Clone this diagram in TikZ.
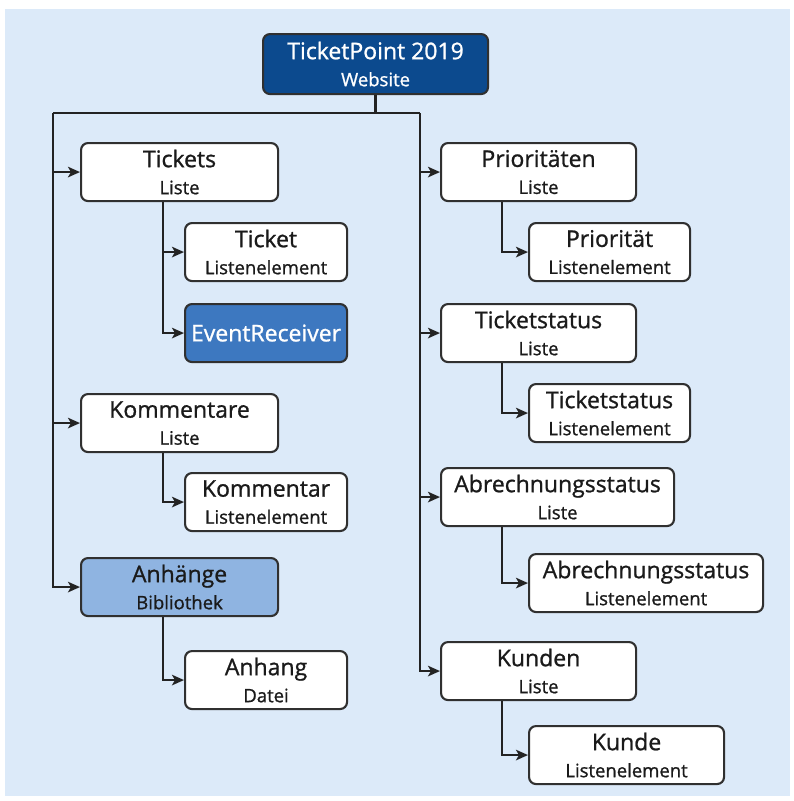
\documentclass[tikz,border=0pt]{standalone}
\usepackage{fontspec}
\setmainfont{Open Sans}[FakeBold=1]
\usetikzlibrary{arrows.meta}
\definecolor{bgc}{HTML}{DCEAF9}
\definecolor{bordc}{HTML}{303030}
\definecolor{linec}{HTML}{232323}
\definecolor{textc}{HTML}{1A1A1A}
\definecolor{topc}{HTML}{0C4A8E}
\definecolor{evc}{HTML}{3D78C0}
\definecolor{libc}{HTML}{8FB4E1}
\tikzset{
  box/.style={draw=bordc, line width=2.1pt, rounded corners=7pt, fill=white,
    inner sep=0pt, align=center, anchor=north west, text=textc,
    minimum height=58pt, font=\fontsize{23}{27}\selectfont},
  conn/.style={draw=linec, line width=2.6pt},
  arr/.style={conn, -{Stealth[length=12pt,width=10.5pt,inset=3pt]}},
}
\newcommand{\sub}[1]{{\fontsize{18.5}{27}\selectfont #1}}
\begin{document}
\begin{tikzpicture}[x=1pt,y=-1pt]
\useasboundingbox (0,0) rectangle (794,801);
\fill[bgc] (5,9) rectangle (790,796);

% top
\node[box, fill=topc, text=white, minimum width=225pt, minimum height=60pt] (top) at (262,33) {TicketPoint 2019\\\sub{Website}};

% left column
\node[box, minimum width=197pt] (tickets) at (80,142) {Tickets\\\sub{Liste}};
\node[box, minimum width=162pt] (ticket) at (184,222) {Ticket\\\sub{Listenelement}};
\node[box, minimum width=162pt, fill=evc, text=white] (evr) at (184,303) {EventReceiver};
\node[box, minimum width=197pt] (komm) at (80,393) {Kommentare\\\sub{Liste}};
\node[box, minimum width=162pt] (kommel) at (184,472) {Kommentar\\\sub{Listenelement}};
\node[box, minimum width=197pt, fill=libc] (anh) at (80,557) {Anhänge\\\sub{Bibliothek}};
\node[box, minimum width=162pt] (anhel) at (184,650) {Anhang\\\sub{Datei}};

% right column
\node[box, minimum width=195pt] (prio) at (440,142) {Prioritäten\\\sub{Liste}};
\node[box, minimum width=161pt] (prioel) at (528,222) {Priorität\\\sub{Listenelement}};
\node[box, minimum width=195pt] (tstat) at (440,303) {Ticketstatus\\\sub{Liste}};
\node[box, minimum width=161pt] (tstatel) at (528,383) {Ticketstatus\\\sub{Listenelement}};
\node[box, minimum width=233pt] (abr) at (440,467) {Abrechnungsstatus\\\sub{Liste}};
\node[box, minimum width=234pt] (abrel) at (528,553) {Abrechnungsstatus\\\sub{Listenelement}};
\node[box, minimum width=195pt] (kund) at (440,641) {Kunden\\\sub{Liste}};
\node[box, minimum width=195pt] (kundel) at (528,725) {Kunde\\\sub{Listenelement}};

% junctions
\coordinate (jL) at (53,113);
\coordinate (jR) at (420,113);

\draw[conn] (top.south) -- (top.south |- jL);
\draw[conn] (jL) -- (jR);

\draw[arr] (jL) |- (tickets.west);
\draw[arr] (jL) |- (komm.west);
\draw[arr] (jL) |- (anh.west);

\draw[arr] (jR) |- (prio.west);
\draw[arr] (jR) |- (tstat.west);
\draw[arr] (jR) |- (abr.west);
\draw[arr] (jR) |- (kund.west);

% children
\draw[arr] ([xshift=83pt]tickets.south west) |- (ticket.west);
\draw[arr] ([xshift=83pt]tickets.south west) |- (evr.west);
\draw[arr] ([xshift=83pt]komm.south west) |- (kommel.west);
\draw[arr] ([xshift=83pt]anh.south west) |- (anhel.west);

\draw[arr] ([xshift=62pt]prio.south west) |- (prioel.west);
\draw[arr] ([xshift=62pt]tstat.south west) |- (tstatel.west);
\draw[arr] ([xshift=62pt]abr.south west) |- (abrel.west);
\draw[arr] ([xshift=62pt]kund.south west) |- (kundel.west);
\end{tikzpicture}
\end{document}
